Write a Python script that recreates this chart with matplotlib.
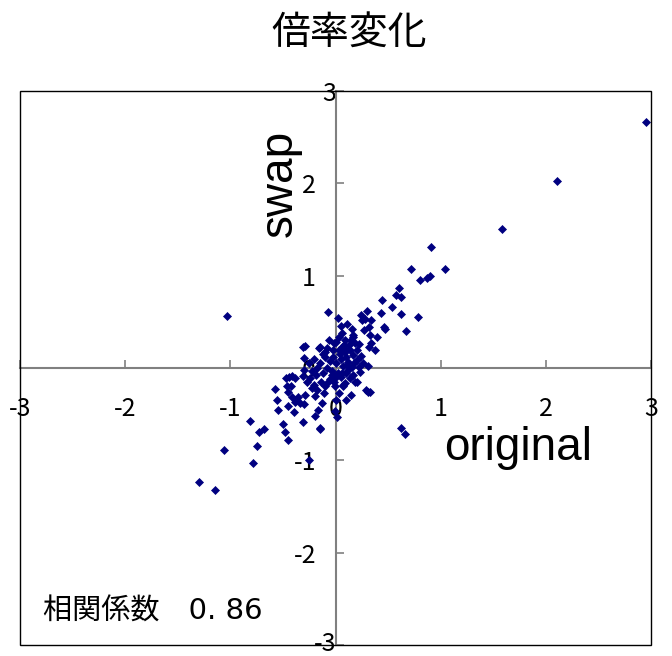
import matplotlib
matplotlib.use("Agg")
import matplotlib.pyplot as plt
from matplotlib.patches import Rectangle
from matplotlib.transforms import ScaledTranslation

plt.rcParams['font.family'] = ['Noto Sans CJK JP', 'DejaVu Sans']
plt.rcParams['axes.unicode_minus'] = False

# values (original on x, swap on y)
orig_vals = [
    2.95, 2.11, 1.58, 0.91, 1.04, 0.72, 0.80, 0.87, 0.895, 0.60,
    0.575, 0.62, 0.44, 0.54, 0.435, 0.62, 0.78, 0.67, 0.457, 0.47,
    -1.035, -1.30, -1.146, -1.06, -0.78, -0.75, -0.81, -0.73, -0.68, 0.626,
    0.66, -0.248,
    0.298, 0.245, 0.25, 0.283, 0.336, 0.267, 0.314, 0.393, 0.33, 0.34,
    0.314, 0.378, 0.245, 0.308, 0.171, 0.155, 0.108, 0.054, 0.022, -0.067,
    -0.01, 0.092, 0.124, 0.06, 0.029, 0.086, 0.14, 0.17, 0.203, 0.22,
    0.155, 0.108, 0.17, 0.187, 0.0, 0.092, -0.1, -0.146,
    0.17, 0.235, 0.14, 0.187, 0.092, 0.076, -0.003, -0.01, 0.15, 0.029,
    0.29, 0.33, 0.31, 0.013, -0.003, 0.2, 0.076, -0.114, -0.13, -0.146,
    -0.035, 0.06,
    -0.305, -0.29, -0.295, -0.16, -0.473, -0.416, -0.384, -0.305, -0.273, -0.24,
    -0.19, -0.226, -0.464, -0.574, -0.45, -0.416, -0.384, -0.56, -0.543, -0.45,
    -0.352, -0.336, -0.295, -0.289, -0.193, -0.178, -0.098, -0.067, -0.17, -0.193,
    -0.39, -0.305, -0.495, -0.479, -0.454, -0.152, -0.44, -0.42,
    -0.2, -0.15, -0.1, -0.05, 0.0, 0.05, 0.1, -0.08, -0.03, 0.02,
    0.07, 0.12, -0.12, -0.18, -0.22, 0.04, -0.02, 0.08, -0.06, 0.03,
    -0.12, 0.18, 0.2, 0.0, -0.05, 0.1, 0.12, -0.25, -0.14, 0.05,
    0.22, -0.02, 0.15, 0.06, -0.08, 0.26, -0.3, -0.2, 0.0, 0.1,
]
swap_vals = [
    2.66, 2.02, 1.51, 1.31, 1.07, 1.07, 0.95, 0.98, 1.0, 0.87,
    0.79, 0.77, 0.74, 0.66, 0.60, 0.585, 0.556, 0.40, 0.447, 0.42,
    0.567, -1.23, -1.32, -0.89, -1.03, -0.85, -0.57, -0.69, -0.66, -0.65,
    -0.71, -1.0,
    0.62, 0.575, 0.52, 0.527, 0.52, 0.41, 0.447, 0.34, 0.357, 0.27,
    0.23, 0.195, 0.13, 0.02, 0.34, 0.42, 0.48, 0.455, 0.54, 0.61,
    0.274, 0.30, 0.25, 0.23, 0.195, 0.177, 0.195, 0.14, 0.087, 0.014,
    0.014, 0.03, 0.357, 0.27, 0.285, 0.21, 0.177, 0.23,
    -0.076, -0.04, -0.11, -0.148, -0.166, -0.2, -0.2, -0.148, -0.29, -0.27,
    -0.24, -0.256, -0.26, -0.53, -0.47, -0.148, -0.184, -0.27, -0.38, -0.65,
    -0.076, -0.058,
    0.23, 0.235, 0.105, 0.22, -0.105, -0.087, -0.11, -0.087, -0.148, -0.11,
    -0.076, -0.22, -0.2, -0.23, -0.256, -0.31, -0.365, -0.347, -0.45, -0.408,
    -0.31, -0.38, -0.39, -0.29, -0.30, -0.24, -0.2, -0.148, -0.455, -0.52,
    -0.48, -0.59, -0.61, -0.69, -0.78, -0.66, -0.094, -0.2,
    0.1, 0.05, 0.12, 0.08, 0.05, 0.1, 0.12, 0.0, -0.03, -0.05,
    0.02, 0.06, -0.05, 0.0, -0.03, 0.15, 0.2, 0.25, 0.3, 0.34,
    0.15, 0.05, 0.2, -0.1, -0.12, -0.05, -0.02, 0.05, -0.15, -0.1,
    0.26, 0.12, 0.3, 0.38, 0.22, 0.05, -0.02, -0.18, -0.35, -0.35,
]
ticks = [-3, -2, -1, 0, 1, 2, 3]
tick_labels = ['-3', '-2', '-1', '0', '1', '2', '3']

fig = plt.figure(figsize=(6.72, 6.56), dpi=100)
ax = fig.add_axes([20 / 672, 11 / 656, 631 / 672, 554 / 656])

ax.plot(orig_vals, swap_vals, linestyle='none', marker='D', markersize=4.2,
        color='#000080', markeredgecolor='#000080', markeredgewidth=0.5,
        zorder=3)

ax.set_xlim(-3, 3)
ax.set_ylim(-3, 3)

# axes crossing at the origin, outer frame drawn separately
ax.spines['left'].set_position('zero')
ax.spines['bottom'].set_position('zero')
for side in ['left', 'bottom']:
    ax.spines[side].set_color('#808080')
    ax.spines[side].set_linewidth(1.5)
ax.spines['right'].set_visible(False)
ax.spines['top'].set_visible(False)
ax.add_patch(Rectangle((0, 0), 1, 1, transform=ax.transAxes, fill=False,
                       edgecolor='black', linewidth=1.0, zorder=4,
                       clip_on=False))

ax.set_xticks(ticks)
ax.set_xticklabels(tick_labels)
ax.set_yticks(ticks)
ax.set_yticklabels(tick_labels)
ax.tick_params(axis='both', direction='in', length=6, width=1.2,
               color='#808080', labelsize=18)
ax.tick_params(axis='x', pad=20)
ax.tick_params(axis='y', pad=14)

# the end labels on the vertical axis sit against the axis line
for lab in ax.get_yticklabels():
    if lab.get_text() == '3':
        lab.set_transform(lab.get_transform() +
                          ScaledTranslation(20 / 100, 0, fig.dpi_scale_trans))
    elif lab.get_text() == '-3':
        lab.set_transform(lab.get_transform() +
                          ScaledTranslation(20 / 100, 4 / 100,
                                            fig.dpi_scale_trans))

fig.text(349 / 672, 1 - 33 / 656, '倍率変化', ha='center', va='center',
         fontsize=28)
ax.text(-0.53, 2.0, 'swap', rotation=90, ha='center', va='center',
        fontsize=33, family='Liberation Sans')
ax.text(1.03, -1.0, 'original', ha='left', va='baseline',
        fontsize=33, family='Liberation Sans')
ax.text(-2.78, -2.64, '相関係数　0. 86', ha='left', va='center',
        fontsize=21, family=['DejaVu Sans', 'Noto Sans CJK JP'])

fig.savefig('out.png', dpi=100)
